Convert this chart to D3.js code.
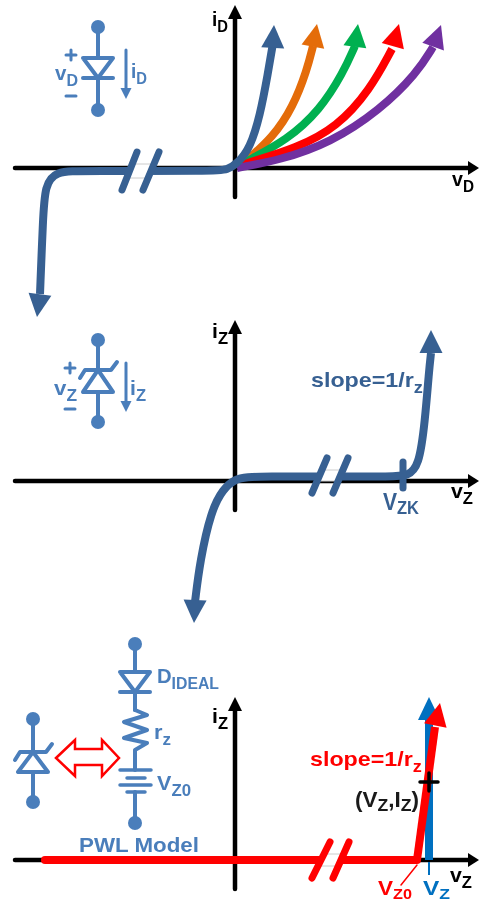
<!DOCTYPE html>
<html><head><meta charset="utf-8">
<script src="https://cdn.jsdelivr.net/npm/d3@7"></script>
<style>html,body{margin:0;padding:0;background:#fff}svg{display:block;font-family:"Liberation Sans",Arial,sans-serif;font-weight:bold;filter:blur(0.45px)}</style>
</head><body><svg id="c" width="479" height="903"></svg>
<script>
// Curves, as [v, i] in arbitrary units about each origin. End points marked in the call are arrow tips.
const diodeBlue=[[-198,-149],[-195,-126],[-192,-50],[-190,-18],[-180,-3],[-150,-3],[-20,-3],[-8,-2],[3,5],[15,20],[25,52],[33,95],[38,125],[39,143]];
const diodeOrange=[[8,5],[12,8],[38,31],[58,61],[72,98],[78,122],[82,144]];
const diodeGreen=[[8,4],[12,7],[52,28],[85,58],[108,95],[120,122],[123,144]];
const diodeRed=[[8,3],[12,5],[62,20],[102,41],[135,78],[157,119],[164,144]];
const diodePurple=[[2,0],[45,8],[95,25],[145,58],[182,95],[198,121],[206,143]];
const zenerCurve=[[-41,-142],[-40,-121],[-35,-80],[-24,-30],[-12,-8],[0,2],[12,4],[30,4.5],[90,4.5],[160,4.5],[172,5],[184,14],[190,60],[194,110],[196,128],[196,151]];
const pwlRed=[[-190,0],[182,0]];
const pwlSlope=[[182,0],[200,133],[205,157]];
const pwlTrue=[[194,0],[194,140],[194,163]];
const curveColors=["#E46C0A","#00B050","#FF0000","#7030A0","#376092"];
const axisXLabels=["v","v","v"];
const axisXSubs=["D","Z","Z"];
const axisYLabels=["i","i","i"];
const axisYSubs=["D","Z","Z"];
const slopeText="slope=1/r";
const modelText="PWL Model";

const INK="#4A7EBB",CURVE="#376092",RED="#FF0000",BLUE="#0070C0";
const svg=d3.select("#c");
const panels=[168,481,860].map(oy=>({
  oy,
  x:d3.scaleLinear().domain([0,100]).range([235,335]),
  y:d3.scaleLinear().domain([0,100]).range([oy,oy-100]),
}));
const tri=(g,pts,fill)=>g.append("polygon").attr("points",pts.map(p=>p.join(",")).join(" ")).attr("fill",fill);
const seg=(g,a,b,c,w,cap="round")=>g.append("line").attr("x1",a[0]).attr("y1",a[1]).attr("x2",b[0]).attr("y2",b[1]).attr("stroke",c).attr("stroke-width",w).attr("stroke-linecap",cap);
const poly=(g,pts,c,w,fill="none")=>g.append("polyline").attr("points",pts.map(p=>p.join(",")).join(" ")).attr("fill",fill).attr("stroke",c).attr("stroke-width",w).attr("stroke-linecap","round").attr("stroke-linejoin","round");

function axes(p,top,bottom,left){
  const g=svg.append("g");
  seg(g,[left,p.oy],[470,p.oy],"#000",4.5);
  seg(g,[235,bottom],[235,top+11],"#000",4.5);
  tri(g,[[479,p.oy],[468,p.oy-7],[468,p.oy+7]],"#000");
  tri(g,[[235,top],[228,top+14],[242,top+14]],"#000");
}
function head(tip,prev,color,hl,hw){
  const dx=tip[0]-prev[0],dy=tip[1]-prev[1],L=Math.hypot(dx,dy),ux=dx/L,uy=dy/L;
  const bx=tip[0]-ux*hl,by=tip[1]-uy*hl;
  tri(svg,[tip,[bx-uy*hw,by+ux*hw],[bx+uy*hw,by-ux*hw]],color);
}
function arrowCurve(p,data,color,w,hl,hw,both=false,curved=true){
  const pts=data.map(d=>[p.x(d[0]),p.y(d[1])]);
  const body=pts.slice(both?1:0,-1);
  const line=d3.line().curve(curved?d3.curveBasis:d3.curveLinear);
  svg.append("path").attr("d",line(body)).attr("fill","none").attr("stroke",color).attr("stroke-width",w).attr("stroke-linejoin","round");
  head(pts[pts.length-1],pts[pts.length-2],color,hl,hw);
  if(both)head(pts[0],pts[1],color,hl,hw);
}
function brk(y0,y1,a,b,color,w){
  const g=svg.append("g");
  const t=y0+12,u=y1-12;
  const f=(s,y)=>s[0]+(s[1]-s[0])*(y-y0)/(y1-y0);
  g.append("polygon").attr("points",[[f(a,t),t],[f(b,t),t],[f(b,u),u],[f(a,u),u]].map(q=>q.join(",")).join(" ")).attr("fill","#fff");
  seg(g,[f(a,t),t],[f(b,t),t],"#ccc",1,"butt");
  seg(g,[f(a,u),u],[f(b,u),u],"#ccc",1,"butt");
  seg(g,[a[0],y0],[a[1],y1],color,w);
  seg(g,[b[0],y0],[b[1],y1],color,w);
}
function label(x,y,parts,size,color,width,drop=size*0.28,subK=0.78){
  const sub=size*subK;
  const t=svg.append("text").attr("y",0).attr("fill",color).attr("font-size",size);
  let prevSub=false;
  parts.forEach(([s,isSub])=>{
    const sp=t.append("tspan").text(s).attr("font-size",isSub?sub:size);
    const dy=isSub&&!prevSub?drop:(!isSub&&prevSub?-drop:0);
    if(dy)sp.attr("dy",dy);
    prevSub=!!isSub;
  });
  const k=width?width/t.node().getComputedTextLength():1;
  t.attr("transform",`translate(${x},${y}) scale(${k},1)`);
}
function dot(x,y){svg.append("circle").attr("cx",x).attr("cy",y).attr("r",7).attr("fill",INK);}
function diode(cx,top,bot,half){
  poly(svg,[[cx-half,top],[cx+half,top],[cx,bot],[cx-half,top]],INK,4,"#fff");
  seg(svg,[cx-half,bot],[cx+half,bot],INK,4);
}
function zener(cx,apex,base){
  poly(svg,[[cx-15,base],[cx+15,base],[cx,apex],[cx-15,base]],INK,4,"#fff");
  poly(svg,[[cx-18,apex+8],[cx-13,apex],[cx+13,apex],[cx+19,apex-8]],INK,4);
}
function currentArrow(x,y0,y1){
  seg(svg,[x,y0],[x,y1-8],INK,3);
  tri(svg,[[x,y1],[x-5.5,y1-11],[x+5.5,y1-11]],INK);
}
function signs(x,plusY,minusY){
  seg(svg,[x-5,plusY],[x+5,plusY],INK,3);
  seg(svg,[x,plusY-5],[x,plusY+5],INK,3);
  seg(svg,[x-5,minusY],[x+5,minusY],INK,3);
}

/* Panel 1 */
const p1=panels[0];
axes(p1,5,197,15);
[diodeOrange,diodeGreen,diodeRed,diodePurple].forEach((d,i)=>arrowCurve(p1,d,curveColors[i],8,23,11.5));
arrowCurve(p1,diodeBlue,curveColors[4],8,23,11.5,true);
brk(152,190,[137,122],[159,143],CURVE,7);
label(212,26,[[axisYLabels[0]],[axisYSubs[0],1]],21,"#000",16);
label(452,186,[[axisXLabels[0]],[axisXSubs[0],1]],21,"#000",22);
seg(svg,[98,27],[98,110],INK,4);dot(98,27);dot(98,110);
diode(98,58,78,15);
currentArrow(126,50,99);
signs(71,55,96);
label(55,80,[[axisXLabels[0]],[axisXSubs[0],1]],20,INK,23);
label(131,78,[[axisYLabels[0]],[axisYSubs[0],1]],20,INK,16);

/* Panel 2 */
const p2=panels[1];
axes(p2,320,510,15);
arrowCurve(p2,zenerCurve,curveColors[4],8,23,11.5,true);
brk(458,493,[327,312],[348,333],CURVE,7);
seg(svg,[403,462],[403,488],CURVE,7);
label(212,338,[[axisYLabels[1]],[axisYSubs[1],1]],21,"#000",16);
label(451,498,[[axisXLabels[1]],[axisXSubs[1],1]],21,"#000",22);
label(311,387,[[slopeText],["z",1]],21,CURVE,112);
label(383,510,[["V"],["ZK",1]],23,CURVE,36,4);
seg(svg,[98,340],[98,422],INK,4);dot(98,340);dot(98,422);
zener(98,370,392);
currentArrow(126,363,412);
signs(70,368,409);
label(54,395,[[axisXLabels[1]],[axisXSubs[1],1]],20,INK,23);
label(130,395,[[axisYLabels[1]],[axisYSubs[1],1]],20,INK,16);

/* Panel 3 */
const p3=panels[2];
axes(p3,697,889,15);
arrowCurve(p3,pwlTrue,BLUE,8,23,11,false,false);
seg(svg,[429,862],[429,875],BLUE,2,"butt");
const redLine=d3.line().x(d=>p3.x(d[0])).y(d=>p3.y(d[1]));
svg.append("path").attr("d",redLine(pwlRed)).attr("fill","none").attr("stroke",RED).attr("stroke-width",8).attr("stroke-linecap","round");
arrowCurve(p3,pwlSlope,RED,8,23,11.5,false,false);
brk(842,878,[330,312],[349,333],RED,7);
seg(svg,[420,782],[438,782],"#000",3.5);
seg(svg,[429,773],[429,791],"#000",3.5);
seg(svg,[401,885],[417,865],RED,1.5);
label(212,723,[[axisYLabels[2]],[axisYSubs[2],1]],21,"#000",16);
label(450,882,[[axisXLabels[2]],[axisXSubs[2],1]],21,"#000",22);
label(310,766,[[slopeText],["z",1]],21,RED,112);
label(355,807,[["(V"],["Z",1],[",I"],["Z",1],[")"]],22,"#1a1a1a",64,4);
label(378,895,[["V"],["Z0",1]],21,RED,34,3.5,0.72);
label(423,895,[["V"],["Z",1]],21,BLUE,27,3.5,0.72);
label(79,852,[[modelText]],21,INK,120);
// ideal-diode series model
seg(svg,[135,644],[135,672],INK,4);dot(135,644);
diode(135,672,692,15);
seg(svg,[135,692],[135,710],INK,4);
poly(svg,[[135,710],[147,715],[124,722],[147,730],[124,738],[147,743],[135,750],[135,770]],INK,4);
seg(svg,[120,770],[151,770],INK,3.5);
seg(svg,[127,778],[145,778],INK,3.5);
seg(svg,[120,785],[151,785],INK,3.5);
seg(svg,[127,792],[145,792],INK,3.5);
seg(svg,[135,792],[135,823],INK,4);dot(135,823);
label(157,683,[["D"],["IDEAL",1]],20,INK,62);
label(154,739,[["r"],["z",1]],20,INK,17);
label(157,790,[["V"],["Z0",1]],20,INK,34);
// zener symbol + equivalence arrow
seg(svg,[33,719],[33,802],INK,4);dot(33,719);dot(33,802);
zener(33,752,772);
svg.append("polygon").attr("points",[[56,758],[75,740],[75,749],[102,749],[102,740],[119,758],[102,776],[102,765],[75,765],[75,776]].map(q=>q.join(",")).join(" ")).attr("fill","#fff").attr("stroke",RED).attr("stroke-width",2.5);
</script></body></html>
